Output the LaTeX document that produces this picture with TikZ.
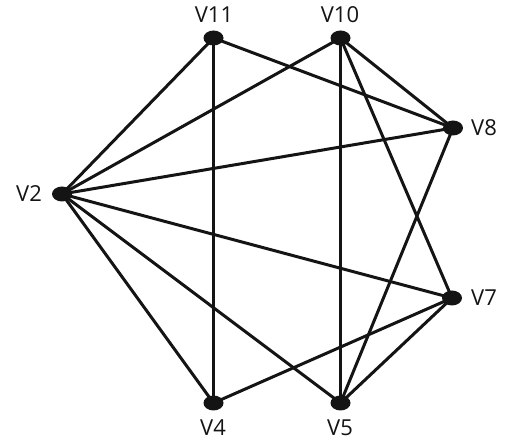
\documentclass[tikz,border=0pt]{standalone}
\usepackage{fontspec}
\setmainfont{Open Sans}
\usetikzlibrary{positioning,shapes.geometric}
\definecolor{ink}{RGB}{20,20,20}
\tikzset{
  vtx/.style={ellipse,fill=ink,draw=none,minimum width=20pt,minimum height=15pt,inner sep=0pt},
  vlab/.style={font=\fontsize{22}{22}\selectfont,text=ink,inner sep=0pt},
  edge/.style={draw=ink,line width=3pt},
}
\begin{document}
\begin{tikzpicture}[x=1pt,y=-1pt]
  \useasboundingbox (0,0) rectangle (509,443);
  % vertices
  \node[vtx] (v11) at (213.5,38) {};
  \node[vtx] (v10) at (340.5,38) {};
  \node[vtx] (v8) at (453,128) {};
  \node[vtx] (v2) at (62,194) {};
  \node[vtx] (v7) at (452,298) {};
  \node[vtx] (v4) at (213.5,403) {};
  \node[vtx] (v5) at (340.5,403) {};
  % labels
  \node[vlab] (l11) at (214,15) {V11};
  \node[vlab] (l10) at (340,15) {V10};
  \node[vlab] (l8) at (484,128) {V8};
  \node[vlab] (l2) at (29,194) {V2};
  \node[vlab] (l7) at (484,298) {V7};
  \node[vlab] (l4) at (213,428) {V4};
  \node[vlab] (l5) at (340,428) {V5};
  % edges
  \foreach \a/\b in {v11/v2,v11/v4,v11/v8,v10/v2,v10/v8,v10/v5,v10/v7,
                     v2/v8,v2/v7,v2/v4,v2/v5,v8/v5,v7/v4,v7/v5}
    \draw[edge] (\a.center) -- (\b.center);
\end{tikzpicture}
\end{document}
